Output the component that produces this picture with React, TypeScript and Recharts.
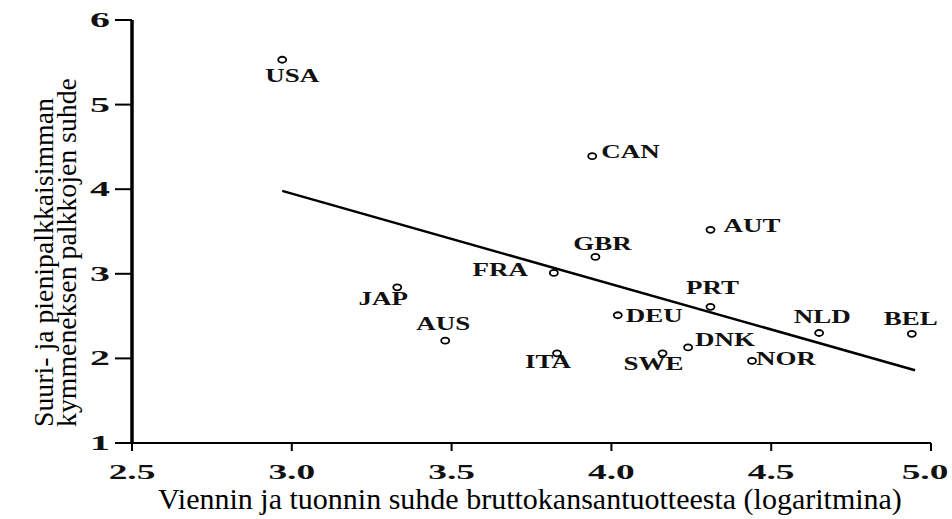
import React from 'react';
import { ScatterChart, Scatter, XAxis, YAxis, ReferenceLine } from 'recharts';

const countries = ['USA', 'CAN', 'AUT', 'GBR', 'FRA', 'JAP', 'PRT', 'DEU', 'NLD', 'BEL', 'AUS', 'DNK', 'ITA', 'SWE', 'NOR'];
const tradeShare = [2.97, 3.94, 4.31, 3.95, 3.82, 3.33, 4.31, 4.02, 4.65, 4.94, 3.48, 4.24, 3.83, 4.16, 4.44];
const wageRatio = [5.53, 4.39, 3.52, 3.2, 3.01, 2.84, 2.61, 2.51, 2.3, 2.29, 2.21, 2.13, 2.06, 2.06, 1.97];
const trendX = [2.97, 4.95];
const trendY = [3.98, 1.86];
const xTicks = [2.5, 3.0, 3.5, 4.0, 4.5, 5.0];
const yTicks = [1, 2, 3, 4, 5, 6];
const xTitle = 'Viennin ja tuonnin suhde bruttokansantuotteesta (logaritmina)';
const yTitleLines = ['Suuri- ja pienipalkkaisimman', 'kymmeneksen palkkojen suhde'];

const data = countries.map((name, i) => ({ name, x: tradeShare[i], y: wageRatio[i] }));
const trendSegment = trendX.map((x, i) => ({ x, y: trendY[i] }));

type Anchor = 'start' | 'middle' | 'end';
const placement: Record<string, { a: Anchor; dx: number; dy: number }> = {
  USA: { a: 'middle', dx: 10, dy: 22 },
  CAN: { a: 'start', dx: 9, dy: 2 },
  AUT: { a: 'start', dx: 13, dy: 2 },
  GBR: { a: 'middle', dx: 7, dy: -7 },
  FRA: { a: 'end', dx: -26, dy: 3 },
  JAP: { a: 'middle', dx: -14, dy: 18 },
  PRT: { a: 'middle', dx: 2, dy: -13 },
  DEU: { a: 'start', dx: 8, dy: 7 },
  NLD: { a: 'middle', dx: 3, dy: -10 },
  BEL: { a: 'middle', dx: -1, dy: -9 },
  AUS: { a: 'middle', dx: -2, dy: -11 },
  DNK: { a: 'start', dx: 7, dy: -1 },
  ITA: { a: 'middle', dx: -9, dy: 15 },
  SWE: { a: 'middle', dx: -9, dy: 17 },
  NOR: { a: 'start', dx: 4, dy: 4 },
};

const FONT = '"Liberation Serif", "Times New Roman", serif';

const PointShape = (props: any) => {
  const { cx, cy } = props;
  const name = props.payload?.name ?? props.name;
  const p = placement[name] || { a: 'start', dx: 8, dy: 4 };
  return (
    <g>
      <ellipse cx={cx} cy={cy} rx={4} ry={3} fill="#fff" stroke="#000" strokeWidth={1.8} />
      <text
        transform={`translate(${cx + p.dx},${cy + p.dy}) scale(1.5,1)`}
        textAnchor={p.a}
        fontFamily={FONT}
        fontSize={18}
        fontWeight="bold"
        fill="#111"
      >
        {name}
      </text>
    </g>
  );
};

const XTick = (props: any) => {
  const { x, y, payload, index } = props;
  const shift = index === xTicks.length - 1 ? -6 : 0;
  return (
    <text
      transform={`translate(${x + shift},${y + 26}) scale(1.7,1)`}
      textAnchor="middle"
      fontFamily={FONT}
      fontSize={22}
      fontWeight="bold"
      fill="#111"
    >
      {Number(payload.value).toFixed(1)}
    </text>
  );
};

const YTick = (props: any) => {
  const { x, y, payload } = props;
  return (
    <text
      transform={`translate(${x - 3},${y + 7}) scale(1.9,1)`}
      textAnchor="end"
      fontFamily={FONT}
      fontSize={21}
      fontWeight="bold"
      fill="#111"
    >
      {payload.value}
    </text>
  );
};

const XTitle = (props: any) => {
  const vb = props.viewBox || { x: 132, y: 443 };
  return (
    <text x={vb.x + 26} y={vb.y + 66} fontFamily={FONT} fontSize={30} fill="#000">
      {xTitle}
    </text>
  );
};

const YTitle = () => {
  const bottom = 427;
  return (
    <g>
      {yTitleLines.map((line, i) => (
        <text
          key={i}
          transform={`translate(${53 + i * 23},${bottom}) rotate(-90)`}
          textAnchor="start"
          fontFamily={FONT}
          fontSize={27.8}
          fill="#000"
        >
          {line}
        </text>
      ))}
    </g>
  );
};

export default function App() {
  return (
    <div style={{ position: 'absolute', left: 0, top: 0, width: 952, height: 519, background: '#fff' }}>
      <ScatterChart width={952} height={519} margin={{ top: 20, right: 21, bottom: 0, left: 0 }}>
        <XAxis
          type="number"
          dataKey="x"
          domain={[2.5, 5.0]}
          ticks={xTicks}
          height={76}
          axisLine={{ stroke: '#000', strokeWidth: 2 }}
          tickLine={{ stroke: '#000', strokeWidth: 2 }}
          tickSize={8}
          tick={<XTick />}
          interval={0}
          label={{ content: <XTitle /> }}
        />
        <YAxis
          type="number"
          dataKey="y"
          domain={[1, 6]}
          ticks={yTicks}
          width={132}
          axisLine={{ stroke: '#000', strokeWidth: 3.5 }}
          tickLine={{ stroke: '#000', strokeWidth: 2 }}
          tickSize={17}
          tick={<YTick />}
          interval={0}
          label={{ content: <YTitle /> }}
        />
        <ReferenceLine
          segment={trendSegment}
          stroke="#000"
          strokeWidth={2.5}
          ifOverflow="visible"
        />
        <Scatter data={data} shape={<PointShape />} isAnimationActive={false} />
      </ScatterChart>
    </div>
  );
}
